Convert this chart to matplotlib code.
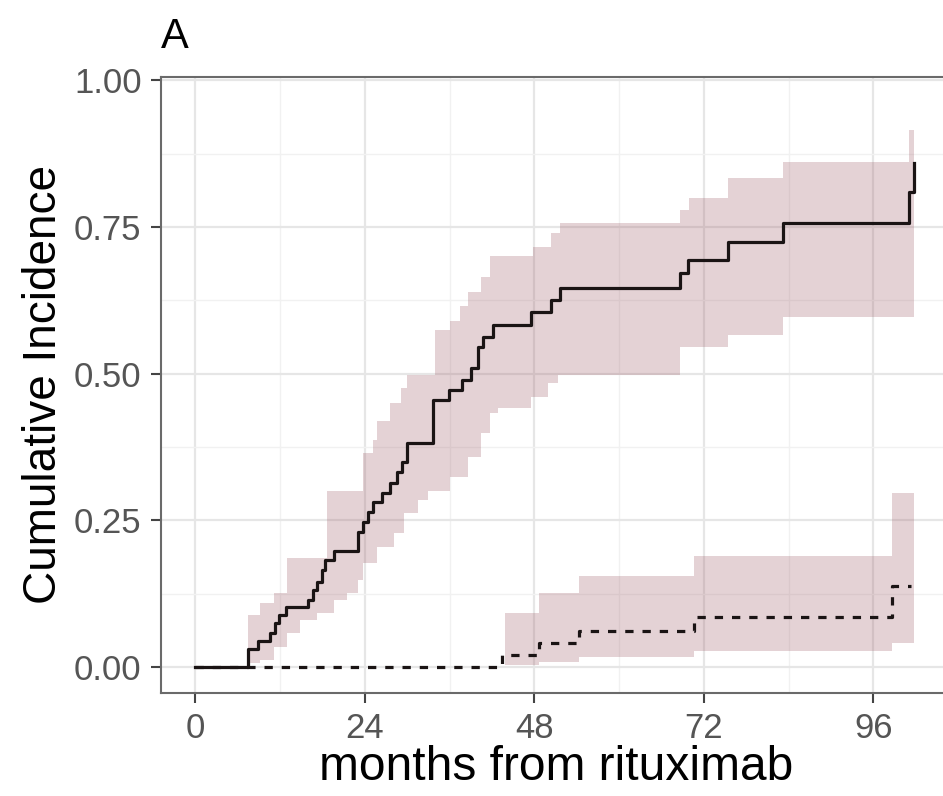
import matplotlib.pyplot as plt

plt.rcParams['font.family'] = ['Liberation Sans', 'DejaVu Sans']

# cumulative incidence, solid curve (months, value)
t_solid = [0, 7.5, 8.9, 10.6, 11.3, 11.8, 12.8, 15.9, 16.6, 17.3, 18.0, 18.4, 19.6,
           23.1, 23.7, 24.4, 25.1, 26.5, 27.6, 28.6, 29.3, 30.0, 33.7, 35.9, 37.8,
           39.0, 40.0, 40.8, 42.1, 47.5, 50.3, 51.7, 68.7, 69.7, 75.4, 83.2, 101.1, 101.8]
ci_solid = [0, 0.031, 0.044, 0.058, 0.075, 0.089, 0.102, 0.114, 0.131, 0.145, 0.165, 0.182, 0.198,
            0.230, 0.247, 0.264, 0.281, 0.296, 0.313, 0.332, 0.350, 0.382, 0.455, 0.472, 0.489,
            0.510, 0.545, 0.562, 0.583, 0.605, 0.626, 0.646, 0.671, 0.694, 0.724, 0.757, 0.810, 0.859]

# confidence band for the solid curve
band_t = [7.5, 9.2, 11.1, 13.0, 14.9, 17.3, 18.7, 19.6, 21.5, 23.0, 23.8, 25.2, 25.8, 27.6,
          28.1, 29.1, 29.5, 30.0, 31.5, 32.9, 34.0, 36.1, 37.5, 38.6, 40.4, 41.8, 42.8, 47.5,
          47.8, 49.9, 50.3, 51.3, 51.7, 68.7, 69.9, 75.4, 83.2, 101.1, 101.8]
band_hi = [0.089, 0.109, 0.126, 0.186, 0.186, 0.186, 0.300, 0.300, 0.300, 0.300, 0.365, 0.387, 0.420, 0.450,
           0.450, 0.475, 0.475, 0.497, 0.497, 0.497, 0.574, 0.590, 0.615, 0.640, 0.665, 0.700, 0.700, 0.700,
           0.716, 0.716, 0.740, 0.740, 0.757, 0.779, 0.800, 0.833, 0.861, 0.915, 0.915]
band_lo = [0.007, 0.012, 0.034, 0.058, 0.080, 0.092, 0.092, 0.114, 0.126, 0.148, 0.177, 0.177, 0.205, 0.205,
           0.228, 0.228, 0.262, 0.262, 0.285, 0.300, 0.300, 0.324, 0.324, 0.358, 0.399, 0.433, 0.441, 0.460,
           0.460, 0.484, 0.484, 0.498, 0.498, 0.545, 0.545, 0.566, 0.597, 0.597, 0.597]

# dashed curve
t_dash = [0, 43.5, 48.6, 54.4, 70.6, 98.6, 101.4]
ci_dash = [0, 0.020, 0.041, 0.061, 0.085, 0.138, 0.138]

dband_t = [43.9, 48.6, 54.4, 70.6, 98.6, 101.8]
dband_hi = [0.092, 0.126, 0.155, 0.189, 0.296, 0.296]
dband_lo = [0.003, 0.008, 0.017, 0.027, 0.041, 0.041]

xticks = [0, 24, 48, 72, 96]
yticks = [0, 0.25, 0.5, 0.75, 1.0]
ytick_labels = ['0.00', '0.25', '0.50', '0.75', '1.00']

fig = plt.figure(figsize=(9.43, 7.96), dpi=100)
ax = fig.add_axes([161 / 943, 1 - 693 / 796, 790 / 943, 616 / 796])

band_col = '#a0606a'
ax.fill_between(band_t, band_lo, band_hi, step='post', color=band_col, alpha=0.28, lw=0, zorder=2)
ax.fill_between(dband_t, dband_lo, dband_hi, step='post', color=band_col, alpha=0.28, lw=0, zorder=2)

ax.step(t_solid, ci_solid, where='post', color='#1a1414', lw=2.3, zorder=3)
ax.step(t_dash, ci_dash, where='post', color='#1a1414', lw=2.3, linestyle=(0, (2.6, 2.8)), zorder=3)

ax.set_xlim(-4.85, 107.0)
ax.set_ylim(-0.0443, 1.0056)

ax.set_xticks(xticks)
ax.set_yticks(yticks)
ax.set_yticklabels(ytick_labels)
ax.set_xticks([12, 36, 60, 84], minor=True)
ax.set_yticks([0.125, 0.375, 0.625, 0.875], minor=True)

ax.grid(which='major', color='#e6e6e6', lw=1.6, zorder=0)
ax.grid(which='minor', color='#f1f1f1', lw=1.0, zorder=0)
ax.set_axisbelow(True)

ax.tick_params(which='major', labelsize=25, labelcolor='#555555', color='#444444',
               length=7, width=1.5, pad=7)
ax.tick_params(which='minor', length=0)

for side in ['left', 'bottom', 'top', 'right']:
    ax.spines[side].set_color('#6a6a6a')
    ax.spines[side].set_linewidth(1.5)

ax.set_xlabel('months from rituximab', fontsize=34.5, color='black', labelpad=0)
ax.set_ylabel('Cumulative Incidence', fontsize=33, color='black', labelpad=6)

fig.text(161 / 943, 1 - 48 / 796, 'A', fontsize=30, color='black', ha='left', va='baseline')

fig.savefig('out.png', dpi=100, facecolor='white')
